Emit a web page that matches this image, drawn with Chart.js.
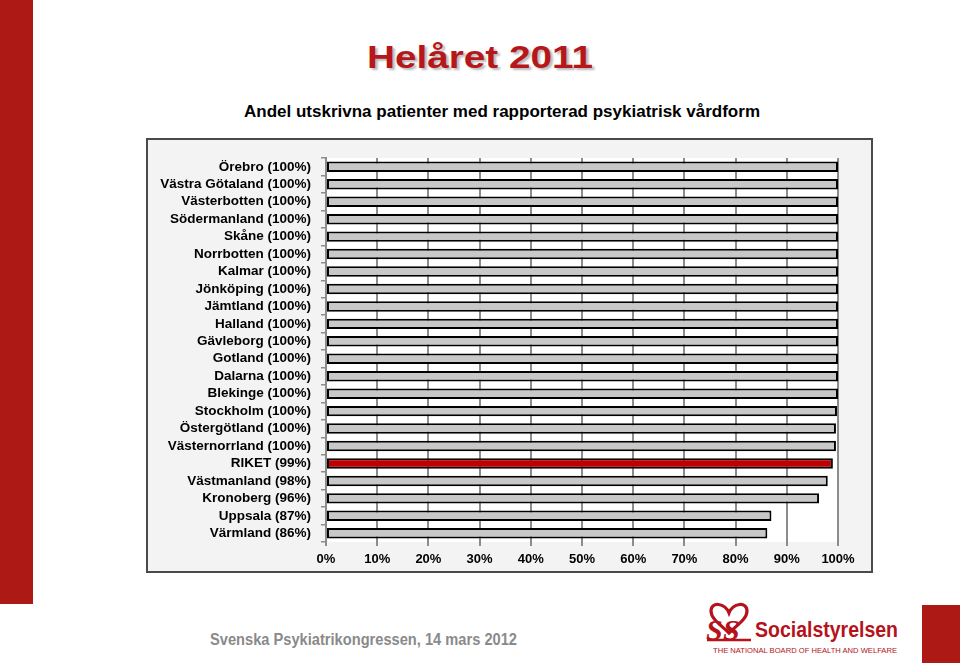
<!DOCTYPE html>
<html>
<head>
<meta charset="utf-8">
<script src="https://cdn.jsdelivr.net/npm/chart.js@4/dist/chart.umd.min.js"></script>
<style>
  html, body { margin: 0; padding: 0; background: #fff; }
  body { width: 960px; height: 664px; position: relative; overflow: hidden; font-family: "Liberation Sans", Arial, sans-serif; }
  .abs { position: absolute; white-space: nowrap; }
  #redLeft { left: 0; top: 0; width: 33px; height: 604px; background: #ad1a16; }
  #redRight { left: 922px; top: 605px; width: 38px; height: 58px; background: #ad1a16; }
  #title { font-weight: bold; font-size: 32px; color: #b5171b; text-shadow: 2px 2px 2px rgba(0,0,0,0.28); transform-origin: left top; }
  #subtitle { font-weight: bold; font-size: 16px; color: #000; transform-origin: left top; }
  #footer { font-weight: bold; font-size: 16px; color: #8a8a8a; transform-origin: left top; }
  #panel { left: 146px; top: 138px; width: 723px; height: 431px; border: 2px solid #4a4a4a; background: #f3f3f3; }
  #chartBox { position: absolute; left: 148px; top: 140px; width: 723px; height: 431px; }
  #logoText { font-family: "Liberation Sans Narrow", "Liberation Sans", sans-serif; font-weight: bold; font-size: 22px; color: #b5121b; transform-origin: left top; }
  #logoSub { font-size: 7px; color: #b5121b; transform-origin: left top; }
</style>
</head>
<body>
<div id="redLeft" class="abs"></div>
<div id="redRight" class="abs"></div>

<div id="title" class="abs fit" data-x="367" data-y="39" data-w="226">Helåret 2011</div>
<div id="subtitle" class="abs fit" data-x="244" data-y="103" data-w="516">Andel utskrivna patienter med rapporterad psykiatrisk vårdform</div>

<div id="panel" class="abs"></div>
<div id="chartBox"><canvas id="c"></canvas></div>

<div id="footer" class="abs fit" data-x="210" data-y="631" data-w="307">Svenska Psykiatrikongressen, 14 mars 2012</div>

<svg class="abs" style="left:705px; top:601px;" width="50" height="42" viewBox="0 0 50 42">
  <path d="M24 12 C20 2, 6 0, 6 10 C6 18, 16 24, 24 32 C32 24, 42 18, 42 10 C42 0, 28 2, 24 12 Z" fill="none" stroke="#b5121b" stroke-width="3.2"/>
  <text x="1" y="39" font-family="Liberation Serif, serif" font-weight="bold" font-style="italic" font-size="30" fill="#b5121b">S</text>
  <text x="18" y="39" font-family="Liberation Serif, serif" font-weight="bold" font-style="italic" font-size="30" fill="#b5121b">S</text>
  <path d="M2 39 L46 39" stroke="#b5121b" stroke-width="2.5"/>
</svg>
<div id="logoText" class="abs fit" data-x="755" data-y="617" data-w="143">Socialstyrelsen</div>
<div id="logoSub" class="abs fit" data-x="713" data-y="647" data-w="184">THE NATIONAL BOARD OF HEALTH AND WELFARE</div>

<script>
// ---- Data ----
const categories = [
  "Örebro (100%)", "Västra Götaland (100%)", "Västerbotten (100%)", "Södermanland (100%)",
  "Skåne (100%)", "Norrbotten (100%)", "Kalmar (100%)", "Jönköping (100%)",
  "Jämtland (100%)", "Halland (100%)", "Gävleborg (100%)", "Gotland (100%)",
  "Dalarna (100%)", "Blekinge (100%)", "Stockholm (100%)", "Östergötland (100%)",
  "Västernorrland (100%)", "RIKET (99%)", "Västmanland (98%)", "Kronoberg (96%)",
  "Uppsala (87%)", "Värmland (86%)"
];
const shareValues = [
  100, 100, 100, 100,
  100, 100, 100, 100,
  100, 100, 100, 100,
  100, 100, 99.8, 99.6,
  99.6, 99.0, 98.0, 96.3,
  87.0, 86.2
];
const highlightCategory = "RIKET (99%)";
const xTickValues = [0, 10, 20, 30, 40, 50, 60, 70, 80, 90, 100];

// ---- fit text widths ----
document.querySelectorAll('.fit').forEach(el => {
  el.style.left = el.dataset.x + 'px';
  el.style.top = el.dataset.y + 'px';
  const w = el.getBoundingClientRect().width;
  const target = parseFloat(el.dataset.w);
  if (w > 0) el.style.transform = 'scaleX(' + (target / w) + ')';
});

const whiteArea = {
  id: 'whiteArea',
  beforeDraw(chart) {
    const { ctx, chartArea } = chart;
    ctx.save();
    ctx.fillStyle = '#ffffff';
    ctx.fillRect(chartArea.left, chartArea.top, chartArea.right - chartArea.left, chartArea.bottom - chartArea.top);
    ctx.restore();
  }
};

const barColors = categories.map(c => c === highlightCategory ? '#c00000' : '#c8c8c8');

new Chart(document.getElementById('c'), {
  type: 'bar',
  data: {
    labels: categories,
    datasets: [{
      data: shareValues,
      backgroundColor: barColors,
      borderColor: '#000000',
      borderWidth: 2,
      borderSkipped: false,
      barPercentage: 0.6,
      categoryPercentage: 1.0
    }]
  },
  options: {
    indexAxis: 'y',
    responsive: true,
    maintainAspectRatio: false,
    animation: false,
    layout: { padding: { top: 13, right: 33, bottom: 0, left: 0 } },
    plugins: {
      legend: { display: false },
      tooltip: { enabled: false },
      title: { display: false }
    },
    scales: {
      x: {
        type: 'linear',
        min: 0,
        max: 100,
        afterBuildTicks(scale) { scale.ticks = xTickValues.map(v => ({ value: v })); },
        afterFit(scale) { scale.height = 29; },
        grid: { color: '#8c8c8c', lineWidth: 2, drawTicks: true, tickLength: 4, tickColor: '#8c8c8c' },
        border: { display: false },
        ticks: {
          callback: v => v + '%',
          color: '#000',
          font: { family: '"Liberation Sans", Arial, sans-serif', size: 13, weight: 'bold' },
          padding: 6,
          maxRotation: 0
        }
      },
      y: {
        type: 'category',
        offset: true,
        afterFit(scale) { scale.width = 178; },
        grid: { display: true, offset: true, drawOnChartArea: false, drawTicks: true, tickLength: 5, tickColor: '#8c8c8c', lineWidth: 1.5 },
        border: { display: true, color: '#8c8c8c', width: 2 },
        ticks: {
          color: '#000',
          font: { family: '"Liberation Sans", Arial, sans-serif', size: 13.5, weight: 'bold' },
          padding: 10,
          autoSkip: false
        }
      }
    }
  },
  plugins: [whiteArea]
});
</script>
</body>
</html>
